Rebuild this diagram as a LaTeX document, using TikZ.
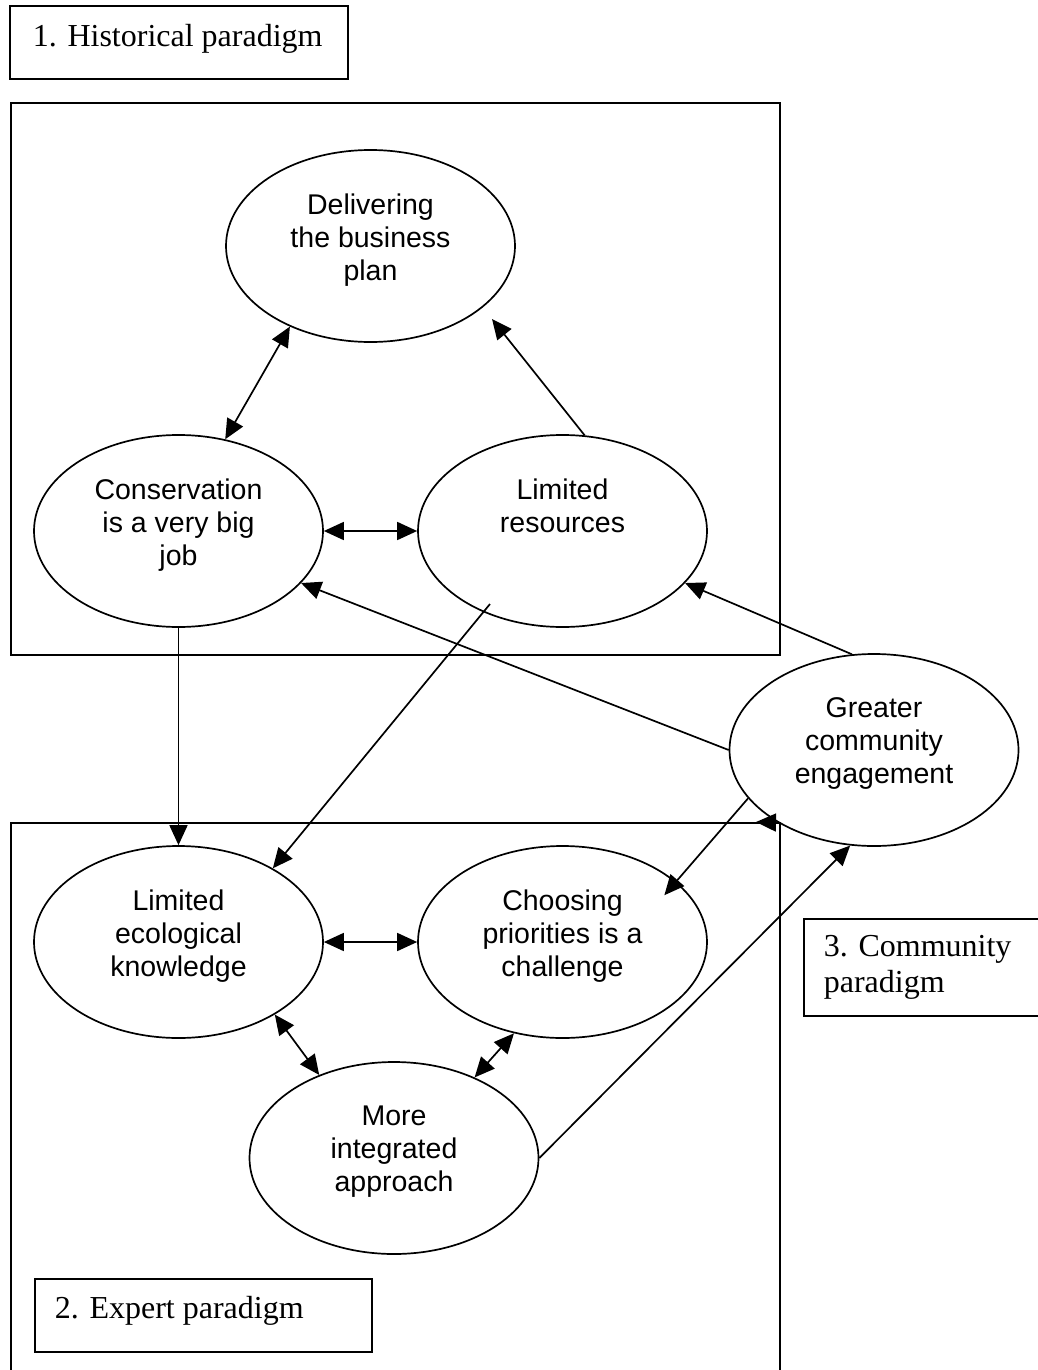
\documentclass[tikz,border=0pt]{standalone}
\usepackage{fontspec}
\setmainfont{Liberation Serif}
\newfontfamily\ellfont{Liberation Sans}
\usetikzlibrary{shapes.geometric,arrows.meta,calc}
\begin{document}
\begin{tikzpicture}[x=1pt,y=-1pt,line width=1.7pt,
  bubble/.style={draw, ellipse, minimum width=289pt, minimum height=192pt, inner sep=0pt},
  btext/.style={anchor=north, inner sep=0pt, align=center, font=\ellfont\fontsize{28.5pt}{33pt}\selectfont},
  frame/.style={draw, rectangle, inner sep=0pt, anchor=north west},
  lbl/.style={font=\fontsize{32pt}{36pt}\selectfont, inner sep=0pt, anchor=base west, align=left},
  arr/.style={-{Triangle[length=20pt,width=18pt]}},
  biarrow/.style={{Triangle[length=20pt,width=18pt]}-{Triangle[length=20pt,width=18pt]}}]
\useasboundingbox (0,0) rectangle (1038,1370);

% frames and labels
\node[frame, minimum width=769pt, minimum height=552pt] (histframe) at (10,102) {};
\node[frame, minimum width=769pt, minimum height=563pt] (expframe) at (10,822) {};
\node[frame, minimum width=338pt, minimum height=73pt] (histbox) at (9,5) {};
\node[lbl] (histlbl) at (32,47) {1. Historical paradigm};
\node[frame, minimum width=337pt, minimum height=73pt] (expbox) at (34,1278) {};
\node[lbl] (explbl) at (54,1318) {2. Expert paradigm};
\node[frame, minimum width=250pt, minimum height=97pt] (combox) at (803,918) {};
\node[lbl, anchor=north west] (comlbl) at (823,934.5) {3. Community\\paradigm};

% ellipses
\node[bubble] (dbp) at (370.5,246) {};
\node[btext] (dbpt) at ([yshift=53pt]dbp.center) {Delivering\\the business\\plan};
\node[bubble] (cvb) at (178.5,531) {};
\node[btext] (cvbt) at ([yshift=53pt]cvb.center) {Conservation\\is a very big\\job};
\node[bubble] (lr) at (562.5,531) {};
\node[btext] (lrt) at ([yshift=53pt]lr.center) {Limited\\resources};
\node[bubble] (gce) at (874,750) {};
\node[btext] (gcet) at ([yshift=53pt]gce.center) {Greater\\community\\engagement};
\node[bubble] (lek) at (178.5,942) {};
\node[btext] (lekt) at ([yshift=53pt]lek.center) {Limited\\ecological\\knowledge};
\node[bubble] (cpc) at (562.5,942) {};
\node[btext] (cpct) at ([yshift=53pt]cpc.center) {Choosing\\priorities is a\\challenge};
\node[bubble] (mia) at (394,1158) {};
\node[btext] (miat) at ([yshift=53pt]mia.center) {More\\integrated\\approach};

% free ends
\coordinate (b1) at (492,319);
\coordinate (g1) at ($(lr.center)+(-72.5,73)$);
\coordinate (boxtip) at (756,822);

% connectors
\draw[biarrow] (dbp.-135) -- (cvb.63);
\draw[arr] (lr.77) -- (b1);
\draw[biarrow] (cvb.east) -- (lr.west);
\draw[arr] (gce.west) -- (cvb.-23);
\draw[arr] (gce.103) -- (lr.-23);
\draw[arr] (cvb.south) -- (lek.north);
\draw[arr] (g1) -- (lek.38);
\draw[biarrow] (lek.east) -- (cpc.west);
\draw[biarrow] (lek.-37) -- (mia.132);
\draw[biarrow] (cpc.-118) -- (mia.45);
\draw[arr, shorten >=-18pt] (gce.201.6) -- (cpc.28);
\draw[arr] (gce.217) -- (boxtip);
\draw[arr] (mia.east) -- (gce.-104);
\end{tikzpicture}
\end{document}
